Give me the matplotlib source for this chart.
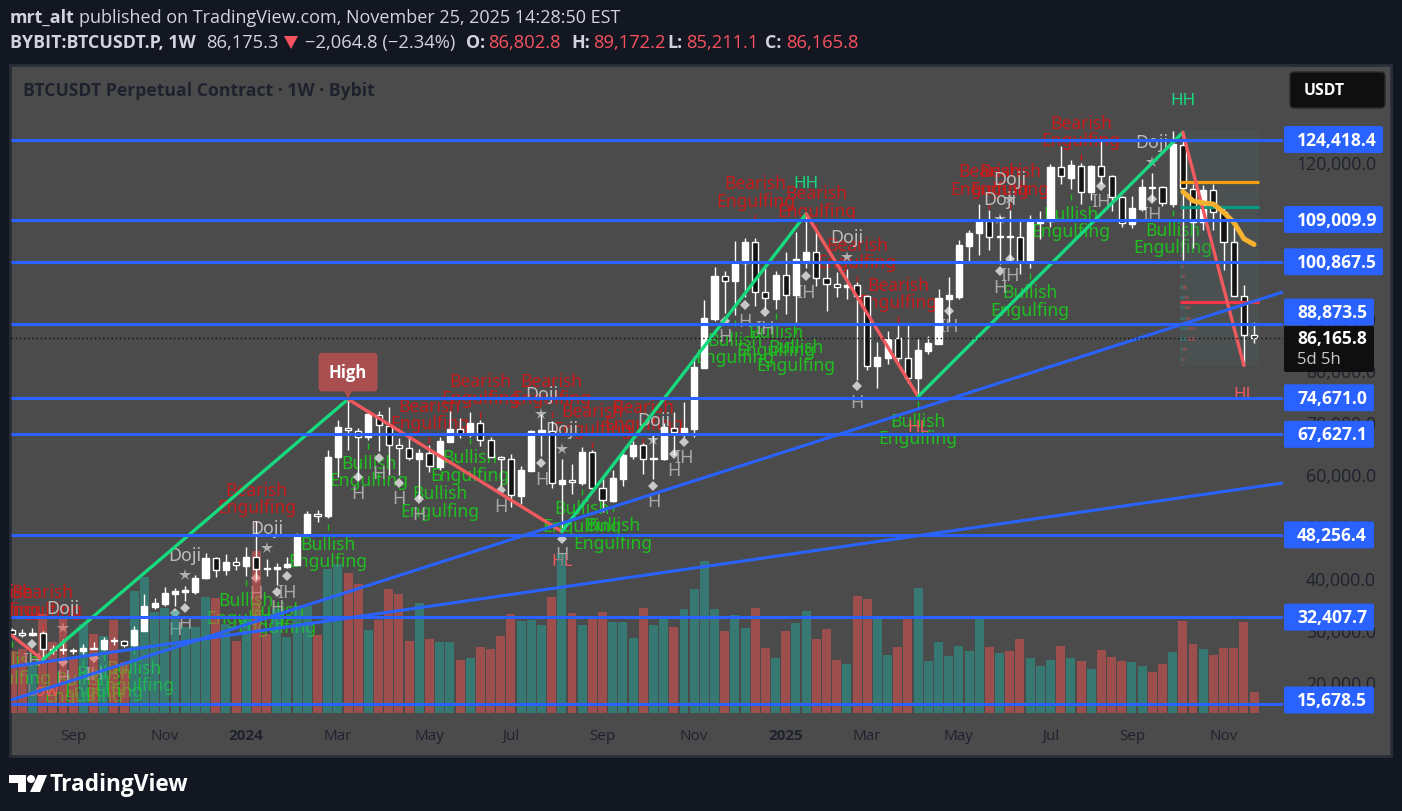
# BTCUSDT weekly chart with pattern labels, levels and volume
import matplotlib
matplotlib.use('Agg')
import matplotlib.pyplot as plt
from matplotlib.patches import Rectangle, FancyBboxPatch, Circle, Polygon

# weekly candles, prices in thousands of USDT
opens = [30.0, 29.4, 29.05, 29.3, 26.3, 26.3, 26.0, 25.8, 26.5, 26.2,
         28.0, 27.9, 27.1, 29.8, 34.4, 35.0, 36.9, 37.3, 37.3, 39.9,
         43.8, 41.4, 43.0, 42.3, 43.9, 41.8, 41.6, 42.0, 42.5, 48.4,
         52.3, 51.8, 63.2, 68.9, 68.3, 67.1, 71.4, 69.3, 65.6, 65.0,
         62.9, 64.0, 61.4, 66.2, 68.6, 67.6, 69.8, 66.6, 63.2, 62.8,
         55.8, 60.6, 68.1, 68.2, 58.1, 58.8, 58.2, 64.2, 57.2, 54.8,
         59.0, 63.5, 65.6, 62.8, 62.8, 68.9, 67.7, 68.7, 80.4, 89.9,
         98.1, 97.2, 100.6, 104.6, 95.1, 93.7, 98.4, 94.5, 101.3, 102.7,
         97.7, 96.5, 96.1, 96.4, 94.2, 80.7, 82.4, 86.1, 82.4, 78.4,
         83.7, 85.1, 93.7, 94.0, 104.0, 106.4, 108.8, 105.6, 105.9, 105.6,
         101.1, 108.3, 108.8, 119.1, 117.1, 119.4, 114.3, 119.3, 117.3, 113.4,
         108.2, 111.0, 115.3, 115.2, 112.0, 123.4, 114.9, 108.6, 114.6, 110.5,
         104.7, 94.2, 86.8]
highs = [30.3, 30.1, 30.3, 29.7, 27.1, 28.2, 26.4, 27.2, 27.6, 28.5,
         28.5, 28.0, 30.7, 36.9, 36.1, 38.2, 38.0, 38.4, 40.5, 44.8,
         43.9, 44.5, 43.9, 45.9, 51.0, 43.6, 42.8, 43.9, 48.6, 52.8,
         53.1, 64.6, 70.3, 74.4, 68.9, 71.9, 72.2, 72.8, 66.9, 67.2,
         64.8, 65.5, 67.2, 72.2, 70.7, 71.9, 70.3, 67.2, 63.5, 63.8,
         61.6, 68.5, 71.5, 70.1, 62.9, 62.0, 65.1, 64.6, 59.8, 60.8,
         64.5, 66.4, 65.9, 67.4, 69.8, 71.9, 73.9, 82.8, 93.5, 99.9,
         99.0, 104.9, 105.4, 105.4, 100.1, 99.0, 102.7, 106.6, 110.1, 106.6,
         101.1, 98.9, 99.5, 96.9, 94.4, 85.4, 87.5, 88.6, 88.6, 86.0,
         86.6, 95.6, 97.9, 105.1, 106.9, 112.0, 110.9, 109.6, 110.9, 108.8,
         109.8, 110.7, 119.7, 123.2, 120.5, 119.9, 119.5, 124.2, 117.6, 113.6,
         113.5, 116.8, 118.0, 115.5, 126.1, 125.8, 115.8, 115.7, 115.9, 111.7,
         107.5, 96.3, 89.2]
lows = [29.0, 28.5, 28.7, 24.2, 25.3, 25.3, 25.4, 25.3, 26.2, 26.0,
        27.1, 26.6, 26.9, 29.8, 33.9, 34.6, 34.6, 35.6, 36.9, 39.8,
        40.1, 40.6, 41.4, 40.4, 39.8, 40.4, 38.6, 41.8, 42.5, 48.4,
        50.7, 51.6, 59.4, 64.7, 58.9, 66.6, 64.5, 59.8, 59.7, 62.6,
        55.2, 60.3, 60.8, 66.2, 66.9, 67.2, 65.3, 63.2, 57.6, 53.6,
        54.2, 60.6, 63.4, 57.3, 48.9, 56.2, 57.9, 57.1, 52.6, 54.5,
        57.6, 62.8, 60.0, 59.0, 62.6, 63.7, 67.1, 67.1, 80.4, 89.5,
        91.0, 90.6, 94.0, 92.4, 91.7, 91.7, 90.8, 89.3, 99.7, 96.2,
        91.3, 94.0, 93.7, 78.0, 80.1, 76.6, 81.2, 81.5, 77.5, 74.9,
        83.1, 85.1, 89.2, 93.7, 101.1, 102.2, 103.2, 100.4, 101.1, 98.5,
        99.6, 105.3, 107.6, 115.9, 114.9, 112.0, 112.8, 115.9, 110.7, 107.5,
        107.3, 110.7, 112.6, 111.7, 111.5, 101.3, 103.5, 106.9, 106.9, 99.2,
        94.2, 80.9, 85.2]
closes = [29.2, 29.0, 29.3, 26.2, 26.0, 26.0, 25.8, 26.4, 26.2, 28.0,
          27.8, 27.1, 29.9, 34.5, 35.1, 37.1, 37.5, 37.6, 39.9, 43.8,
          41.4, 43.0, 42.5, 44.0, 41.6, 41.6, 42.0, 42.6, 47.9, 52.3,
          51.8, 63.2, 69.0, 68.4, 67.2, 71.5, 69.4, 65.6, 65.0, 63.0,
          64.0, 61.5, 66.3, 68.7, 67.7, 69.8, 66.6, 63.2, 62.8, 55.9,
          60.8, 68.2, 68.4, 58.2, 58.8, 58.4, 64.2, 57.2, 54.9, 59.2,
          63.7, 65.6, 62.8, 63.0, 69.0, 68.0, 68.8, 80.5, 90.0, 98.2,
          97.2, 100.6, 104.6, 95.1, 93.8, 98.4, 94.5, 101.4, 102.7, 97.7,
          96.5, 96.1, 96.3, 94.2, 80.7, 82.5, 86.0, 82.4, 78.4, 83.9,
          85.2, 93.8, 94.4, 104.1, 106.5, 108.8, 105.6, 105.9, 105.7, 101.1,
          108.5, 108.8, 119.1, 117.3, 119.5, 114.3, 119.3, 117.3, 113.4, 108.3,
          111.2, 115.2, 115.0, 112.1, 123.6, 115.0, 108.6, 114.7, 110.5, 104.7,
          94.2, 86.8, 86.2]
volumes = [62, 64, 51, 99, 71, 96, 54, 89, 79, 77,
           93, 51, 122, 136, 101, 105, 102, 86, 86, 116,
           115, 89, 72, 94, 162, 79, 104, 76, 107, 107,
           78, 144, 149, 140, 129, 83, 93, 124, 119, 72,
           110, 74, 71, 71, 53, 55, 66, 64, 77, 99,
           92, 93, 88, 116, 159, 100, 88, 94, 101, 91,
           91, 75, 105, 88, 94, 86, 104, 124, 152, 104,
           82, 98, 85, 105, 65, 55, 82, 90, 102, 74,
           84, 53, 49, 117, 114, 95, 58, 66, 95, 125,
           52, 71, 57, 67, 62, 95, 66, 60, 62, 74,
           55, 47, 53, 67, 55, 52, 44, 63, 56, 52,
           51, 47, 41, 49, 61, 92, 69, 64, 58, 65,
           65, 91, 21]

# horizontal levels and the two rising trend lines
level_prices = [124.4184, 109.0099, 100.8675, 88.8735, 74.671, 67.6271, 48.2564, 32.4077, 15.6785]
level_labels = ['124,418.4', '109,009.9', '100,867.5', '88,873.5', '74,671.0', '67,627.1', '48,256.4', '32,407.7', '15,678.5']
tag_shift = [0, 0, 0, -12, 0, 0, 0, 0, -4]
trend_bars = [-0.1, 124.84]
trend_a = [16.45, 95.05]
trend_b = [22.86, 58.25]

# zigzag through the swing points
zig_bars = [-0.1, 3, 33, 54, 78, 89, 115, 121]
zig_prices = [29.0, 24.2, 74.4, 48.9, 110.1, 74.9, 125.8, 80.9]

# moving average and range levels on the right
ma_bars = [115, 116, 117, 118, 119, 120, 121, 122]
ma_prices = [114.4, 112.6, 112.2, 112.0, 110.4, 108.5, 105.3, 104.2]
box_bars = [114.7, 122.5]
box_prices = [80.8, 126.2]
poc_top = 116.2
poc_mid = 111.4
poc_low = 93.2
last_close = 86.1658

# volume profile rows inside the box
prof_prices = [82, 84, 86, 88, 90, 92, 94, 96, 98, 100, 102, 104, 106, 108, 110, 112, 114]
prof_teal = [0.2, 0.3, 0.7, 0.8, 0.6, 0.5, 0.5, 0.3, 0.2, 0.2, 0.2, 0.1, 0.1, 0.1, 0.1, 0.1, 0.1]
prof_red = [0.3, 0.4, 0.9, 0.7, 0.5, 0.6, 0.4, 0.4, 0.3, 0.2, 0.1, 0.1, 0.1, 0.1, 0.1, 0.1, 0.1]

# pattern labels
bear_bars = [-1, 3, 24, 41, 46, 53, 57, 62, 73, 79, 83, 87, 96, 98, 105]
bear_prices = [35.5, 35.5, 55.2, 71.5, 76.2, 76.2, 70.4, 71.2, 114.3, 112.4, 102.4, 94.7, 116.6, 116.6, 125.9]
bull_bars = [0, 7, 9, 12, 23, 26, 31, 35, 42, 45, 56, 59, 71, 75, 77, 89, 100, 104, 114]
bull_prices = [22.4, 18.8, 19.9, 21.0, 34.0, 32.2, 44.8, 60.4, 54.6, 61.5, 51.7, 48.4, 84.1, 85.6, 82.7, 68.5, 93.3, 108.5, 105.4]
doji_bars = [5, 17, 25, 52, 54, 63, 82, 97, 98, 112]
doji_prices = [30.3, 40.5, 45.7, 71.5, 64.8, 66.5, 101.8, 109.1, 113.0, 120.1]
h_bars = [2, 5, 8, 16, 17, 24, 26, 27, 34, 36, 38, 40, 48, 52, 54, 63, 65, 66, 70, 72, 74, 78, 83, 92, 97, 98, 107, 112]
h_prices = [27.2, 23.8, 24.5, 33.2, 34.2, 40.0, 37.3, 40.3, 59.4, 63.1, 58.3, 55.2, 56.9, 62.1, 47.5, 57.7, 63.8, 66.2,
            89.5, 92.5, 91.2, 98.1, 76.9, 91.4, 99.1, 101.4, 115.5, 113.0]
ih_bars = [2, 8, 27, 66, 74, 78, 92, 98, 107, 112]
hh_bars = [78, 115]
hh_prices = [116.0, 132.0]
hl_bars = [54, 89, 121]
hl_prices = [43.2, 69.0, 75.4]

# price scale and time scale
price_ticks = [20, 30, 40, 50, 60, 70, 80, 90, 100, 110, 120]
price_tick_labels = ['20,000.0', '30,000.0', '40,000.0', '50,000.0', '60,000.0', '70,000.0', '80,000.0', '90,000.0', '100,000.0', '110,000.0', '120,000.0']
time_ticks = [6, 15, 23, 32, 41, 49, 58, 67, 76, 84, 93, 102, 110, 119]
time_labels = ['Sep', 'Nov', '2024', 'Mar', 'May', 'Jul', 'Sep', 'Nov', '2025', 'Mar', 'May', 'Jul', 'Sep', 'Nov']

W, H = 1402, 812
BG = '#131722'
PANE = '#4b4b4b'
BLUE = '#2962ff'
INK = '#1e222d'
GREEN = '#17d97e'
RED = '#f0595e'
UI = 'Open Sans'
LABEL = 'Noto Sans'

fig = plt.figure(figsize=(W / 100, H / 100), dpi=100, facecolor=BG)


# axes placed by pixel box
def pixel_axes(x0, y0, x1, y1):
    return fig.add_axes([x0 / W, 1 - y1 / H, (x1 - x0) / W, (y1 - y0) / H])


bg = pixel_axes(0, 0, W, H)
bg.set_xlim(0, W)
bg.set_ylim(H, 0)
bg.axis('off')
bg.set_zorder(0)

top = pixel_axes(0, 0, W, H)
top.set_xlim(0, W)
top.set_ylim(H, 0)
top.axis('off')
top.set_zorder(3)

ax = pixel_axes(11, 68, 1283, 714)
ax.set_zorder(1)
ax.patch.set_alpha(0)
ax.set_xlim(-0.108, 124.84)
ax.set_ylim(13.94, 138.39)
for s in ax.spines.values():
    s.set_visible(False)

# pane background and frame
bg.add_patch(Rectangle((10, 66), 1381, 691, fc=PANE, ec='#2a2e39', lw=2))

# header text
bg.text(10, 18, 'mrt_alt', color='#d1d4dc', fontsize=12.9, fontweight='bold', family=UI, va='center')
bg.text(79, 18, 'published on TradingView.com, November 25, 2025 14:28:50 EST', color='#d1d4dc', fontsize=13, family=UI, va='center')
bg.text(10, 43, 'BYBIT:BTCUSDT.P, 1W', color='#d1d4dc', fontsize=12.9, fontweight='bold', family=UI, va='center')
bg.text(206, 43, '86,175.3', color='#d1d4dc', fontsize=13.2, family=UI, va='center')
bg.add_patch(Polygon([(284, 37), (298, 37), (291, 50)], fc='#f7525f', ec='none'))
bg.text(305, 43, '\u22122,064.8 (\u22122.34%)', color='#d1d4dc', fontsize=13.2, family=UI, va='center')
for x, s in [(466, 'O:'), (571, 'H:'), (667, 'L:'), (765, 'C:')]:
    bg.text(x, 43, s, color='#d1d4dc', fontsize=12.9, fontweight='bold', family=UI, va='center')
for x, s in [(488, '86,802.8'), (593, '89,172.2'), (686, '85,211.1'), (786, '86,165.8')]:
    bg.text(x, 43, s, color='#f7525f', fontsize=13.2, family=UI, va='center')
bg.text(23, 91, 'BTCUSDT Perpetual Contract \u00b7 1W \u00b7 Bybit', color=INK, fontsize=12.7, fontweight='bold', family=UI, va='center')

# logo at the bottom
bg.add_patch(Polygon([(9, 776), (26, 776), (26, 793), (18, 793), (18, 784), (9, 784)], fc='white', ec='none'))
bg.add_patch(Circle((31, 780), 4, fc='white', ec='none'))
bg.add_patch(Polygon([(38, 776), (47, 776), (40, 793), (30, 793)], fc='white', ec='none'))
bg.text(50, 785, 'TradingView', color='white', fontsize=16.3, fontweight='bold', family=UI, va='center')

bars = list(range(len(opens)))
up = [c >= o for o, c in zip(opens, closes)]

# pattern labels go under volume and candles
for b, p in zip(bear_bars, bear_prices):
    ax.text(b, p, 'Bearish\nEngulfing', color='#c81c1c', fontsize=12.6, family=LABEL, ha='center', va='center', linespacing=0.95, zorder=2, clip_on=True)
    ax.plot(b, p - 4.9, marker='|', color='#c81c1c', ms=5, zorder=2)
for b, p in zip(bull_bars, bull_prices):
    ax.text(b, p, 'Bullish\nEngulfing', color='#1fbf1f', fontsize=12.6, family=LABEL, ha='center', va='center', linespacing=0.95, zorder=2, clip_on=True)
    ax.plot(b, p + 4.9, marker='|', color='#1fbf1f', ms=5, zorder=2)
for b, p in zip(doji_bars, doji_prices):
    ax.plot(b, p, marker='*', color='#b0b0b0', ms=9, mew=0, zorder=2)
    ax.text(b, p + 3.8, 'Doji', color='#bdbdbd', fontsize=12.8, family=LABEL, ha='center', va='center', zorder=2)
for b, p in zip(h_bars, h_prices):
    ax.plot(b, p, marker='D', color='#c8c8c8', ms=5, mew=0, zorder=2)
    ax.text(b, p - 3.0, 'IH' if b in ih_bars else 'H', color='#a8a8a8', fontsize=13, family=LABEL, ha='center', va='center', zorder=2)
for b, p in zip(hh_bars, hh_prices):
    ax.text(b, p, 'HH', color=GREEN, fontsize=12.3, family=LABEL, ha='center', va='center', zorder=2)
for b, p in zip(hl_bars, hl_prices):
    ax.text(b, p, 'HL', color=RED, fontsize=12.3, family=LABEL, ha='center', va='center', zorder=2)
ax.text(3, 18.2, 'Low', color=RED, fontsize=12.3, family=LABEL, ha='center', va='center', zorder=2)

# volume on its own scale, bars translucent so the labels show through
vax = ax.twinx()
vax.set_ylim(0, 646)
vax.set_zorder(2)
vax.patch.set_alpha(0)
vax.axis('off')
vax.bar(bars, volumes, width=0.88, color=['#26a69a' if u else '#ef5350' for u in up], alpha=0.5, lw=0)

# candles sit above the volume, on a third layer
cax = ax.twinx()
cax.set_ylim(ax.get_ylim())
cax.set_zorder(2.5)
cax.patch.set_alpha(0)
cax.axis('off')

# range box, profile and its levels
cax.add_patch(Rectangle((box_bars[0], box_prices[0]), box_bars[1] - box_bars[0], box_prices[1] - box_prices[0],
                        fc='#4d6a6a', alpha=0.18, ec='none', zorder=1))
cax.barh(prof_prices, prof_teal, left=box_bars[0], height=0.6, color='#26a69a', alpha=0.3, lw=0, zorder=1)
cax.barh(prof_prices, prof_red, left=[box_bars[0] + t for t in prof_teal], height=0.6, color='#ef5350', alpha=0.3, lw=0, zorder=1)

cax.vlines(bars, lows, highs, color='white', lw=1.0, zorder=2)
cax.bar(bars, [abs(c - o) for o, c in zip(opens, closes)], bottom=[min(o, c) for o, c in zip(opens, closes)], width=0.6,
        color=['white' if u else '#131313' for u in up], edgecolor='white', lw=1.0, zorder=3)

cax.plot(box_bars, [poc_top, poc_top], color='#f59d0e', lw=2.3, solid_capstyle='butt', zorder=4)
cax.plot(box_bars, [poc_mid, poc_mid], color='#089981', lw=2.3, solid_capstyle='butt', zorder=4)
cax.plot(box_bars, [poc_low, poc_low], color='#f23645', lw=2.3, solid_capstyle='butt', zorder=4)

# zigzag legs alternate between falling red and rising green
for n in range(len(zig_bars) - 1):
    cax.plot(zig_bars[n:n + 2], zig_prices[n:n + 2], color=RED if n % 2 == 0 else GREEN, lw=2.4, zorder=5, solid_capstyle='round')
cax.plot(ma_bars, ma_prices, color='#f6b131', lw=3.6, solid_joinstyle='round', solid_capstyle='round', zorder=6)

# levels and trend lines
cax.hlines(level_prices, -0.108, 124.84, color=BLUE, lw=2.2, zorder=7)
cax.plot(trend_bars, trend_a, color=BLUE, lw=2.2, zorder=7)
cax.plot(trend_bars, trend_b, color=BLUE, lw=2.2, zorder=7)
cax.hlines(last_close, -0.108, 124.84, color='#111111', lw=1.0, linestyles=(0, (1, 2)), zorder=7)

# High callout
cax.plot(33, 76.6, marker='v', color='#a94f4f', ms=16.5, mew=0, zorder=8)
cax.annotate('High', xy=(33, 79.6), color='white', fontsize=12, fontweight='bold', family=UI, ha='center', va='center', zorder=9,
             bbox=dict(boxstyle='round,pad=0.62,rounding_size=0.25', fc='#a94f4f', ec='none'))

# scales
ax.set_xticks(time_ticks)
ax.set_xticklabels(time_labels, family=UI, fontsize=11, color=INK)
for t, s in zip(ax.get_xticklabels(), time_labels):
    if s.startswith('20'):
        t.set_fontweight('bold')
ax.tick_params(axis='x', length=0, pad=11)
ax.yaxis.tick_right()
ax.set_yticks(price_ticks)
ax.set_yticklabels(price_tick_labels, family=UI, fontsize=12.8, color=INK, ha='right')
ax.tick_params(axis='y', length=0, pad=67)
ax.grid(False)


# pixel row of a price
def price_y(p):
    return H - ax.transData.transform((0, p))[1]


# blue price tags on the right
for p, s, d in zip(level_prices, level_labels, tag_shift):
    y = price_y(p) + d
    wide = len(s) > 8
    top.add_patch(FancyBboxPatch((1284, y - 13.5), 99 if wide else 90, 27, boxstyle='round,pad=0,rounding_size=2', fc=BLUE, ec='none', zorder=2))
    top.text(1297, y, s, color='white', fontsize=12.6, fontweight='bold', family=UI, va='center', zorder=3)

# last price tag
top.add_patch(FancyBboxPatch((1284, 327), 90, 46, boxstyle='round,pad=0,rounding_size=2', fc='#0f0f0f', ec='none', zorder=1))
top.text(1297, 339, '86,165.8', color='white', fontsize=12.6, fontweight='bold', family=UI, va='center', zorder=3)
top.text(1297, 360, '5d 5h', color='#c8c8c8', fontsize=12, family=UI, va='center', zorder=3)

# currency button
top.add_patch(FancyBboxPatch((1290, 73), 95, 36, boxstyle='round,pad=0,rounding_size=4', fc='#0f0f0f', ec='#2a2a2a', lw=1))
top.text(1324, 91, 'USDT', color='white', fontsize=11.3, fontweight='bold', family=UI, ha='center', va='center')

fig.savefig('out.png', dpi=100, facecolor=BG)
